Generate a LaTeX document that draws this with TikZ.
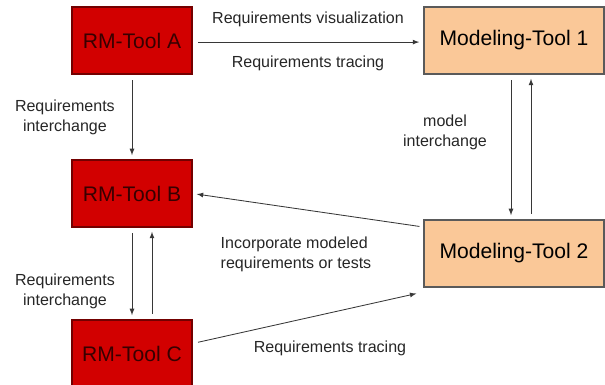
\documentclass[tikz,border=0pt]{standalone}
\usepackage{fontspec}
\setmainfont{Liberation Sans}
\usepackage{tikz}
\definecolor{rmred}{RGB}{210,0,0}
\definecolor{rmedge}{RGB}{115,0,0}
\definecolor{rmtext}{RGB}{55,0,0}
\definecolor{mtfill}{RGB}{250,200,152}
\definecolor{mtedge}{RGB}{90,90,90}
\definecolor{connline}{RGB}{55,55,55}
\tikzset{
  rmbox/.style={draw=rmedge,line width=0.8pt,fill=rmred,text=rmtext,minimum width=3cm,minimum height=1.675cm,font=\fontsize{15}{18}\selectfont},
  mtbox/.style={draw=mtedge,line width=0.8pt,fill=mtfill,text=black,minimum width=4.5cm,minimum height=1.675cm,font=\fontsize{15}{18}\selectfont},
  conn/.style={draw=connline,line width=0.6pt,-latex,shorten <=4pt,shorten >=3pt},
  lbl/.style={text=black!85,font=\fontsize{11.4}{14.2}\selectfont,align=center,inner sep=0pt}
}

\begin{document}
\begin{tikzpicture}
				\useasboundingbox (0,0) rectangle (15.125,-9.625);
				% tools
				\node[rmbox] (rmA) at (3.3,-1.0125) {RM-Tool A};
				\node[rmbox] (rmB) at (3.3,-4.8375) {RM-Tool B};
				\node[rmbox] (rmC) at (3.3,-8.8375) {RM-Tool C};
				\node[mtbox] (mt1) at (12.85,-1.0125) {Modeling-Tool 1};
				\node[mtbox] (mt2) at (12.85,-6.3375) {Modeling-Tool 2};
				% A to tool 1
				\draw[conn] ([yshift=-0.04cm]rmA.east) -- ([yshift=-0.04cm]mt1.west)
					node[lbl,midway,above=0.36cm] {Requirements visualization}
					node[lbl,midway,below=0.34cm] {Requirements tracing};
				% requirements interchange
				\draw[conn] (rmA.south) -- (rmB.north)
					node[lbl,midway,left=0.42cm] {Requirements\\interchange};
				\draw[conn] (rmB.south) -- (rmC.north);
				\draw[conn] ([xshift=0.5cm]rmC.north) -- ([xshift=0.5cm]rmB.south);
				\node[lbl] (lblBC) at (1.625,-7.29) {Requirements\\interchange};
				% model interchange
				\draw[conn] ([xshift=-0.075cm]mt1.south) -- ([xshift=-0.075cm]mt2.north);
				\draw[conn] ([xshift=0.425cm]mt2.north) -- ([xshift=0.425cm]mt1.south);
				\node[lbl] (lblMI) at (11.125,-3.3) {model\\interchange};
				% back to the RM tools
				\draw[conn,shorten <=0pt] ([xshift=-0.1cm,yshift=-0.175cm]mt2.north west) -- (rmB.east);
				\node[lbl,align=left] (lblInc) at (7.4,-6.35) {Incorporate modeled\\requirements or tests};
				\draw[conn,shorten >=0pt] ([yshift=0.25cm]rmC.east) -- ([xshift=-0.175cm,yshift=-0.15cm]mt2.south west);
				\node[lbl] (lblTr) at (8.25,-8.7) {Requirements tracing};
\end{tikzpicture}
\end{document}
